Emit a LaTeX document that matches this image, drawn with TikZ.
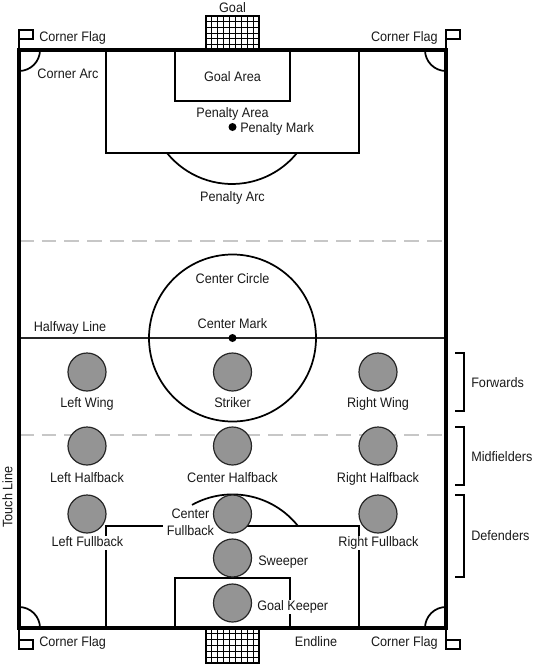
\documentclass[tikz,border=0pt]{standalone}
\usepackage{fontspec}
\setmainfont[FakeStretch=0.92]{Liberation Sans}
\tikzset{
  x=0.75pt,y=-0.75pt,
  thickline/.style={line width=2.4pt,line cap=rect},
  medline/.style={line width=1.3pt},
  thinline/.style={line width=1pt},
  gridline/.style={line width=0.7pt},
  halfline/.style={line width=1.3pt,draw=black!85},
  graydash/.style={line width=1pt,draw=black!22,dash pattern=on 11pt off 6pt},
  player/.style={circle,draw=black!85,line width=0.9pt,fill=black!42,minimum size=28.5pt,inner sep=0pt},
  spot/.style={circle,fill=black,minimum size=6pt,inner sep=0pt},
  lbl/.style={font=\fontsize{10.3pt}{11pt}\selectfont,inner sep=0pt,text height=7.2pt,text depth=2pt,text=black!90},
  mask/.style={lbl,fill=white,inner xsep=1.5pt,inner ysep=0.5pt},
}
\begin{document}
\begin{tikzpicture}
\useasboundingbox (0,0) rectangle (535,664);
% dashed lines
\draw[graydash] (19,241) -- (446,241);
\draw[graydash] (19,435) -- (446,435);
% halfway & centre circle
\draw[halfline] (19,338) -- (446,338);
\draw[medline] (232.5,338) circle[radius=83.5];
% top areas
\draw[medline] (106,50) -- (106,153) -- (359,153) -- (359,50);
\draw[medline] (175,50) -- (175,101) -- (290,101) -- (290,50);
\draw[medline] (167,153) arc[start angle=141,end angle=39,radius=83.6];
% bottom areas
\draw[medline] (106,628) -- (106,526) -- (359,526) -- (359,628);
\draw[medline] (175,628) -- (175,578) -- (290,578) -- (290,628);
\draw[medline] (192,504.9) arc[start angle=241,end angle=321,radius=83.6];
% goals
\foreach \i in {1,...,8}{
  \draw[gridline] ({206+\i*5.89},16) -- ({206+\i*5.89},50);
  \draw[gridline] ({206+\i*5.89},628) -- ({206+\i*5.89},663);
}
\foreach \j in {1,...,5}{
  \draw[gridline] (206,{16+\j*5.7}) -- (259,{16+\j*5.7});
  \draw[gridline] (206,{628+\j*5.8}) -- (259,{628+\j*5.8});
}
\draw[medline] (206,50) -- (206,16) -- (259,16) -- (259,50);
\draw[medline] (206,628) -- (206,663) -- (259,663) -- (259,628);
% corner arcs
\draw[medline] (40,50) arc[start angle=0,end angle=90,radius=21];
\draw[medline] (425,50) arc[start angle=180,end angle=90,radius=21];
\draw[medline] (40,628) arc[start angle=0,end angle=-90,radius=21];
\draw[medline] (425,628) arc[start angle=180,end angle=270,radius=21];
% flags
\draw[thinline] (19,50) -- (19,30) -- (33,30) -- (33,39) -- (19,39);
\draw[thinline] (446,50) -- (446,30) -- (460,30) -- (460,39) -- (446,39);
\draw[thinline] (19,628) -- (19,649) -- (33,649) -- (33,640) -- (19,640);
\draw[thinline] (446,628) -- (446,649) -- (460,649) -- (460,640) -- (446,640);
% labels masking lines
\node[mask,inner xsep=3pt,inner ysep=2pt] (cf2) at (190.5,532) {Fullback};
\node[mask] (cf1) at (190.5,515) {Center};
\node[mask] (lfb) at (87.5,543) {Left Fullback};
\node[mask] (rfb) at (378.5,543) {Right Fullback};
\node[mask,anchor=west] (gk) at (255,607) {Goal Keeper};
% players
\foreach \n/\x/\y in {lw/87/372,st/232.5/372,rw/378/372,lh/87/446,ch/232.5/446,rh/378/446,lf/87/514,cb/232.5/514,rf/378/514,sw/232.5/558,gkp/232.5/603}{
  \node[player] (\n) at (\x,\y) {};
}
% outer field
\draw[thickline] (19,50) rectangle (446,628);
% spots
\node[spot] (pm) at (232.5,127) {};
\node[spot] (cm) at (232.5,338) {};
% text
\node[lbl] (goal) at (232.5,9) {Goal};
\node[lbl,anchor=west] (f1) at (39,38) {Corner Flag};
\node[lbl,anchor=east] (f2) at (438,38) {Corner Flag};
\node[lbl,anchor=west] (f3) at (39,643) {Corner Flag};
\node[lbl,anchor=east] (f4) at (438,643) {Corner Flag};
\node[lbl] (ca) at (68,75) {Corner Arc};
\node[lbl] (ga) at (232.5,78) {Goal Area};
\node[lbl] (pa) at (232.5,114) {Penalty Area};
\node[lbl,anchor=west] (pmk) at (240,129) {Penalty Mark};
\node[lbl] (parc) at (232.5,198) {Penalty Arc};
\node[lbl] (cc) at (232.5,280) {Center Circle};
\node[lbl] (cmk) at (232.5,325) {Center Mark};
\node[lbl] (hl) at (70,328) {Halfway Line};
\node[lbl] (lwt) at (87,404) {Left Wing};
\node[lbl] (stt) at (232.5,404) {Striker};
\node[lbl] (rwt) at (378,404) {Right Wing};
\node[lbl] (lht) at (87,479) {Left Halfback};
\node[lbl] (cht) at (232.5,479) {Center Halfback};
\node[lbl] (rht) at (378,479) {Right Halfback};
\node[lbl,anchor=west] (swt) at (258,562) {Sweeper};
\node[lbl] (el) at (316,643) {Endline};
\node[lbl,rotate=90] (tl) at (9,497) {Touch Line};
\node[lbl,anchor=west] (fw) at (471,384) {Forwards};
\node[lbl,anchor=west] (mf) at (471,458) {Midfielders};
\node[lbl,anchor=west] (df) at (471,537) {Defenders};
% brackets
\draw[medline] (455,353) -- (464,353) -- (464,411) -- (455,411);
\draw[medline] (455,427) -- (464,427) -- (464,485) -- (455,485);
\draw[medline] (455,495) -- (464,495) -- (464,577) -- (455,577);
\end{tikzpicture}
\end{document}
